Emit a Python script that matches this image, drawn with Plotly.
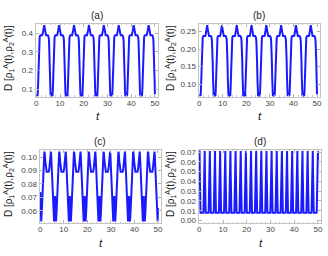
import numpy as np
import plotly.graph_objects as go

W, H = 328, 256
T_MAX = 50

# ---- data: one half-period template per panel ----
# (a) offsets from trough centre -> D
a_u = [0.0, 0.38, 0.5, 0.65, 0.8, 0.95, 1.1, 1.25, 1.45, 1.6, 2.35, 2.5, 2.8, 3.1425]
a_d = [0.065, 0.066, 0.09, 0.16, 0.25, 0.32, 0.36, 0.38, 0.388, 0.39, 0.39, 0.396, 0.418, 0.445]
a_period, a_centre0 = 6.285, 0.17
a_start, a_end = 0.065, 0.072

# (b) offsets from trough centre -> D
b_u = [0.0, 0.38, 0.5, 0.65, 0.8, 0.95, 1.1, 1.25, 1.45, 1.6, 2.35, 2.5, 2.8, 3.1425]
b_d = [0.068, 0.069, 0.082, 0.118, 0.165, 0.202, 0.222, 0.232, 0.236, 0.237, 0.237, 0.240, 0.253, 0.268]
b_period, b_centre0 = 6.285, 0.2
b_start, b_end = 0.068, 0.072

# (c) offsets from small-bump centre -> D
c_u = [0.0, 0.2, 0.42, 0.7, 0.95, 1.2, 1.45, 1.62, 1.75, 1.9, 2.15, 2.45, 2.72, 3.1425]
c_d = [0.071, 0.063, 0.052, 0.061, 0.071, 0.081, 0.092, 0.101, 0.104, 0.103, 0.097, 0.091, 0.089, 0.089]
c_period, c_centre0 = 6.285, 0.0
c_start, c_end = 0.074, 0.062

# (d) offsets from peak centre -> D
d_u = [0.0, 0.12, 0.22, 0.32, 0.4, 0.52, 1.084]
d_d = [0.071, 0.071, 0.05, 0.02, 0.009, 0.008, 0.008]
d_period, d_centre0 = 2.168, 0.0
d_start, d_end = 0.071, 0.062

a_yticks = [0.1, 0.2, 0.3, 0.4]
b_yticks = [0.10, 0.15, 0.20, 0.25]
c_yticks = [0.05, 0.06, 0.07, 0.08, 0.09, 0.10]
d_yticks = [0.00, 0.01, 0.02, 0.03, 0.04, 0.05, 0.06, 0.07]
x_ticks = [0, 10, 20, 30, 40, 50]
titles = ["(a)", "(b)", "(c)", "(d)"]
ylab = "D [ρ<sub>1</sub><sup>A</sup>(t),ρ<sub>2</sub><sup>A</sup>(t)]"


def tile(us, ds, period, c0, d0, d1):
    us = np.asarray(us); ds = np.asarray(ds)
    fu = np.concatenate([-us[::-1], us[1:]])
    fd = np.concatenate([ds[::-1], ds[1:]])
    t, d = [0.0], [d0]
    k = -1
    while c0 + k * period - period / 2 <= T_MAX:
        c = c0 + k * period
        for uu, dd in zip(fu[:-1], fd[:-1]):
            tt = c + uu
            if 0 < tt < T_MAX:
                t.append(tt); d.append(dd)
        k += 1
    t.append(T_MAX); d.append(d1)
    return t, d


series = [
    tile(a_u, a_d, a_period, a_centre0, a_start, a_end),
    tile(b_u, b_d, b_period, b_centre0, b_start, b_end),
    tile(c_u, c_d, c_period, c_centre0, c_start, c_end),
    tile(d_u, d_d, d_period, d_centre0, d_start, d_end),
]

# ---- layout (pixels) ----
frames = [  # x0, x1, y0(top), y1(bottom)
    (34, 158, 22, 96.5),
    (199, 322, 22, 96.5),
    (38, 161, 150, 225),
    (199, 323, 150, 225),
]
yranges = [[0.057, 0.453], [0.064, 0.272], [0.0505, 0.1055], [-0.003, 0.0725]]
yticks = [a_yticks, b_yticks, c_yticks, d_yticks]
yfmt = [".1f", ".2f", ".2f", ".2f"]

fig = go.Figure()
font = "Liberation Sans, Arial, sans-serif"
ann = []
for i, ((t, d), (x0, x1, y0, y1)) in enumerate(zip(series, frames)):
    n = i + 1
    xa = "x" if n == 1 else f"x{n}"
    ya = "y" if n == 1 else f"y{n}"
    fig.add_trace(go.Scatter(x=t, y=d, mode="lines", xaxis=xa, yaxis=ya,
                             line=dict(color="#1a1aff", width=2), showlegend=False,
                             hoverinfo="skip"))
    common = dict(showline=True, linecolor="#c4c4c4", linewidth=1, mirror="ticks",
                  showgrid=False, zeroline=False, ticks="inside", ticklen=3,
                  tickcolor="#b0b0b0", tickwidth=1, ticklabeloverflow="allow",
                  tickfont=dict(family=font, size=8, color="#444"))
    fig.layout[f"xaxis{'' if n == 1 else n}"] = dict(
        domain=[x0 / W, x1 / W], range=[-0.3, 51.3], tickvals=x_ticks,
        anchor=ya, ticklabelstandoff=-2,
        minor=dict(ticks="inside", ticklen=1.5, dtick=2, tickcolor="#c8c8c8"),
        **common)
    fig.layout[f"yaxis{'' if n == 1 else n}"] = dict(
        domain=[1 - y1 / H, 1 - y0 / H], range=yranges[i], tickvals=yticks[i],
        tickformat=yfmt[i], anchor=xa, **common)
    cx = (x0 + x1) / 2
    ann.append(dict(text=titles[i], x=cx / W, y=1 - (y0 - 8) / H, xref="paper", yref="paper",
                    showarrow=False, font=dict(family=font, size=10, color="#222"),
                    xanchor="center", yanchor="middle"))
    ann.append(dict(text="<i>t</i>", x=(cx + 1) / W, y=1 - (y1 + 19.5) / H, xref="paper",
                    yref="paper", showarrow=False,
                    font=dict(family=font, size=11.5, color="#222"),
                    xanchor="center", yanchor="middle"))
    lx = 6 if i % 2 == 0 else 170
    ann.append(dict(text=ylab, x=lx / W, y=1 - (y0 + 35) / H, xref="paper", yref="paper",
                    showarrow=False, textangle=-90,
                    font=dict(family=font, size=10, color="#222"),
                    xanchor="center", yanchor="middle"))

fig.update_layout(width=W, height=H, margin=dict(l=0, r=0, t=0, b=0),
                  paper_bgcolor="white", plot_bgcolor="white", annotations=ann,
                  hovermode=False)
fig.write_html("out.html", config={"displayModeBar": False, "staticPlot": True},
               post_script="document.body.style.margin='0';document.body.style.overflow='hidden';")
